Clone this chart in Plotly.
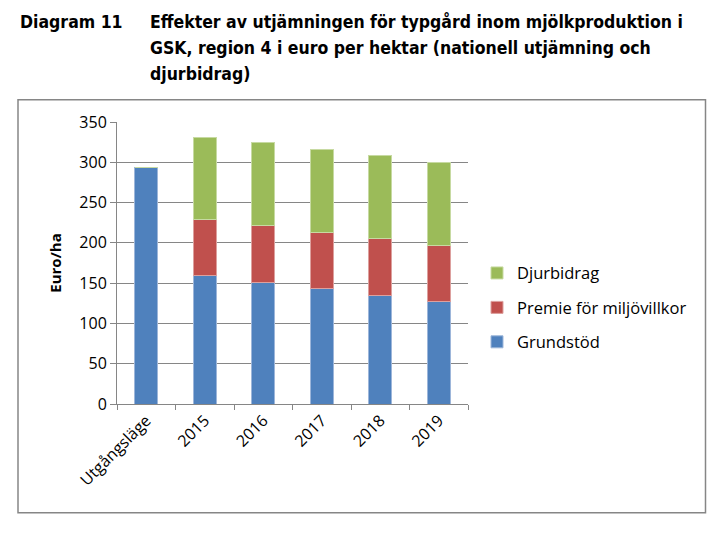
import plotly.graph_objects as go

categories = ["Utgångsläge", "2015", "2016", "2017", "2018", "2019"]
grundstod = [293, 159, 151, 143, 135, 127]
premie = [0, 70, 70, 70, 70, 70]
djurbidrag = [0, 102, 103, 103, 103, 103]
y_ticks = [0, 50, 100, 150, 200, 250, 300, 350]

title_label = "Diagram 11"
title_lines = [
    "Effekter av utjämningen för typgård inom mjölkproduktion i",
    "GSK, region 4 i euro per hektar (nationell utjämning och",
    "djurbidrag)",
]

W, H = 727, 557
L, R, T, B = 117, 468, 122.3, 404.3

def px_x(x):
    return (x - L) / (R - L)

def px_y(y):
    return (B - y) / (B - T)

font_chart = "Open Sans, Lato, sans-serif"
title_font = "Liberation Sans Narrow, DejaVu Sans Condensed, DejaVu Sans, sans-serif"

fig = go.Figure()
series = [
    ("Grundstöd", grundstod, "#4F81BD", "#9DB6DA", 3),
    ("Premie för miljövillkor", premie, "#C0504D", "#DDA09E", 2),
    ("Djurbidrag", djurbidrag, "#9BBB59", "#C7DAA2", 1),
]
for name, vals, col, edge, rank in series:
    fig.add_trace(go.Bar(
        x=categories, y=vals, name=name, legendgroup=name, legendrank=rank,
        marker=dict(color=col, line=dict(color=edge, width=1)),
    ))

annotations = [
    dict(text="<b>" + title_label + "</b>", x=px_x(18), y=px_y(22), xref="paper", yref="paper",
         xanchor="left", yanchor="middle", showarrow=False,
         font=dict(family=title_font, size=17.5, color="#000000")),
]
for i, line in enumerate(title_lines):
    annotations.append(dict(text="<b>" + line + "</b>", x=px_x(148), y=px_y(22 + 26 * i), xref="paper",
                            yref="paper", xanchor="left", yanchor="middle", showarrow=False,
                            font=dict(family=title_font, size=17.5, color="#000000")))
annotations.append(dict(text="<b>Euro/ha</b>", x=px_x(55), y=px_y(264), xref="paper", yref="paper",
                        xanchor="center", yanchor="middle", textangle=-90, showarrow=False,
                        font=dict(family=font_chart, size=15, color="#000000")))

fig.update_layout(
    width=W, height=H,
    margin=dict(l=L, r=W - R, t=T, b=H - B, autoexpand=False),
    paper_bgcolor="white", plot_bgcolor="white",
    barmode="stack", bargap=0.6,
    showlegend=True,
    legend=dict(x=px_x(477), y=px_y(256), xref="paper", yref="paper", xanchor="left", yanchor="top",
                traceorder="grouped", tracegroupgap=10, itemwidth=30,
                font=dict(family=font_chart, size=16.5, color="#000000"), bgcolor="rgba(0,0,0,0)"),
    annotations=annotations,
    shapes=[dict(type="rect", xref="paper", yref="paper", x0=px_x(18), x1=px_x(705.5),
                 y0=px_y(513), y1=px_y(100), line=dict(color="#868686", width=1.5))],
    font=dict(family=font_chart, size=15, color="#000000"),
)
fig.update_xaxes(
    type="category", tickangle=-45, tickson="boundaries", ticks="outside", ticklen=5,
    tickcolor="#868686", showline=True, linecolor="#868686", linewidth=1,
    showgrid=False, tickfont=dict(family=font_chart, size=16, color="#000000"),
)
fig.update_yaxes(
    range=[0, 350], tickvals=y_ticks, ticks="outside", ticklen=6, tickcolor="#868686",
    showline=True, linecolor="#868686", linewidth=1, showgrid=True, gridcolor="#868686",
    gridwidth=1, zeroline=False, tickfont=dict(family=font_chart, size=16, color="#000000"),
)

fig.write_html("out.html", config={"displayModeBar": False},
               post_script="document.body.style.margin='0';document.body.style.overflow='hidden';")
